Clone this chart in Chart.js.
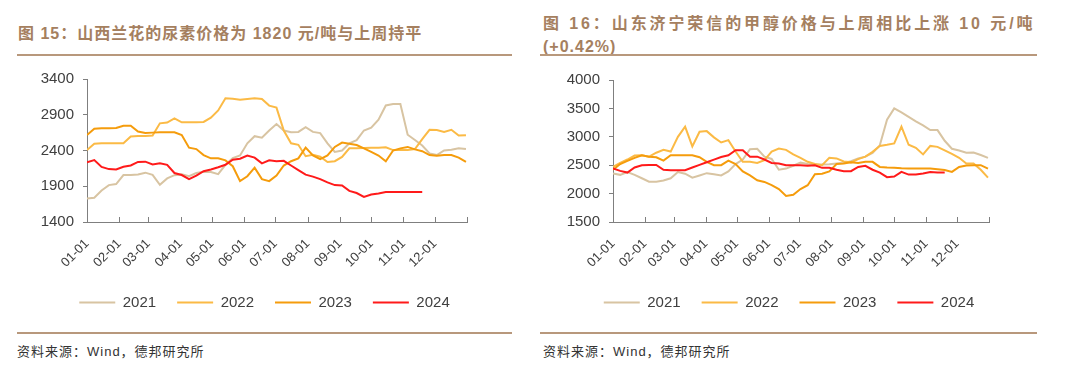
<!DOCTYPE html>
<html>
<head>
<meta charset="utf-8">
<script src="https://cdn.jsdelivr.net/npm/chart.js@4.4.1/dist/chart.umd.min.js"></script>
<style>
  body { margin: 0; width: 1080px; height: 378px; background: #fff; position: relative; overflow: hidden; }
  .title { position: absolute; font: bold 16px "Liberation Sans", "Noto Sans CJK SC", sans-serif; color: #a5805f; line-height: 20px; white-space: nowrap; letter-spacing: 1px; }
  .rule { position: absolute; height: 2px; background: #b8987c; }
  .source { position: absolute; font: 13px "Liberation Sans", "Noto Sans CJK SC", sans-serif; color: #333; line-height: 16px; letter-spacing: 1px; white-space: nowrap; }
  canvas { position: absolute; }
</style>
</head>
<body>
<div class="title" style="left:18px;top:24px">图 15：山西兰花的尿素价格为 1820 元/吨与上周持平</div>
<div class="rule" style="left:17px;top:54px;width:495px"></div>
<canvas id="ureaChart" width="529" height="264" style="left:0;top:60px"></canvas>
<div class="rule" style="left:17px;top:332px;width:495px"></div>
<div class="source" style="left:17px;top:344px">资料来源：Wind，德邦研究所</div>

<div class="title" style="left:543px;top:14px;letter-spacing:2.9px">图 16：山东济宁荣信的甲醇价格与上周相比上涨 10 元/吨</div>
<div class="title" style="left:543px;top:37px">(+0.42%)</div>
<div class="rule" style="left:540px;top:54px;width:497px"></div>
<canvas id="methanolChart" width="498" height="264" style="left:540px;top:60px"></canvas>
<div class="rule" style="left:540px;top:332px;width:497px"></div>
<div class="source" style="left:543px;top:344px">资料来源：Wind，德邦研究所</div>

<script>
// =======================
// Data (weekly readings, one value every 7 days from 01-01)
// =======================
const years = ['2021', '2022', '2023', '2024'];
const yearColors = ['#d8c4a2', '#fbba45', '#f59c0c', '#ff1a1a'];

const monthStarts = [0, 31, 59, 90, 120, 151, 181, 212, 243, 273, 304, 334, 365];
const monthLabels = ['01-01', '02-01', '03-01', '04-01', '05-01', '06-01', '07-01', '08-01', '09-01', '10-01', '11-01', '12-01'];

// 山西兰花 尿素 (元/吨)
const urea2021 = [1730, 1740, 1840, 1916, 1930, 2057, 2057, 2065, 2090, 2060, 1920, 2010, 2055, 2066, 2040, 2085, 2103, 2100, 2070, 2200, 2295, 2330, 2500, 2600, 2580, 2680, 2770, 2680, 2655, 2660, 2725, 2660, 2644, 2500, 2380, 2400, 2500, 2545, 2680, 2720, 2830, 3030, 3050, 3050, 2620, 2546, 2470, 2360, 2336, 2400, 2410, 2430, 2420];
const urea2022 = [2407, 2495, 2500, 2500, 2500, 2500, 2595, 2603, 2603, 2610, 2780, 2790, 2850, 2794, 2794, 2794, 2800, 2860, 2960, 3130, 3125, 3111, 3120, 3130, 3120, 3028, 3000, 2680, 2500, 2480, 2320, 2340, 2313, 2240, 2250, 2310, 2430, 2430, 2435, 2440, 2440, 2445, 2406, 2406, 2406, 2420, 2560, 2690, 2686, 2660, 2690, 2610, 2615];
const urea2023 = [2616, 2705, 2710, 2710, 2715, 2747, 2747, 2665, 2645, 2650, 2654, 2654, 2654, 2616, 2440, 2420, 2336, 2290, 2290, 2262, 2180, 1972, 2040, 2160, 2000, 1972, 2050, 2190, 2250, 2290, 2440, 2330, 2280, 2330, 2450, 2510, 2495, 2476, 2430, 2380, 2330, 2250, 2400, 2430, 2450, 2416, 2390, 2336, 2325, 2336, 2336, 2300, 2240];
const urea2024 = [2235, 2266, 2170, 2140, 2136, 2173, 2190, 2240, 2244, 2205, 2220, 2200, 2085, 2057, 2000, 2050, 2110, 2135, 2165, 2200, 2270, 2285, 2330, 2300, 2220, 2262, 2250, 2255, 2190, 2126, 2062, 2035, 2000, 1955, 1916, 1910, 1835, 1805, 1750, 1785, 1800, 1820, 1820, 1820, 1820, 1820, 1820];

// 山东济宁荣信 甲醇 (元/吨)
const methanol2021 = [2353, 2330, 2380, 2330, 2270, 2210, 2210, 2230, 2270, 2380, 2350, 2280, 2320, 2360, 2340, 2320, 2390, 2520, 2600, 2780, 2790, 2650, 2610, 2420, 2440, 2490, 2545, 2520, 2512, 2512, 2515, 2530, 2540, 2570, 2617, 2650, 2715, 2850, 3300, 3500, 3430, 3350, 3270, 3200, 3120, 3118, 2930, 2790, 2760, 2720, 2724, 2680, 2629];
const methanol2022 = [2470, 2540, 2600, 2670, 2676, 2650, 2720, 2770, 2740, 3000, 3180, 2830, 3090, 3100, 2990, 2900, 2941, 2740, 2560, 2560, 2540, 2590, 2740, 2794, 2770, 2690, 2630, 2560, 2520, 2500, 2630, 2620, 2565, 2550, 2606, 2650, 2735, 2840, 2860, 2883, 3180, 2860, 2806, 2690, 2840, 2823, 2760, 2700, 2630, 2530, 2530, 2420, 2280];
const methanol2023 = [2420, 2520, 2575, 2630, 2676, 2650, 2640, 2580, 2676, 2676, 2676, 2676, 2640, 2560, 2500, 2500, 2580, 2520, 2390, 2320, 2235, 2205, 2150, 2080, 1960, 1980, 2080, 2147, 2340, 2350, 2390, 2520, 2530, 2550, 2540, 2559, 2559, 2470, 2460, 2455, 2445, 2441, 2441, 2441, 2441, 2430, 2415, 2382, 2470, 2495, 2500, 2500, 2441];
const methanol2024 = [2441, 2400, 2370, 2460, 2500, 2505, 2505, 2420, 2412, 2412, 2412, 2460, 2506, 2553, 2598, 2645, 2676, 2765, 2765, 2650, 2650, 2600, 2540, 2530, 2500, 2500, 2500, 2490, 2500, 2453, 2453, 2420, 2394, 2394, 2470, 2490, 2420, 2370, 2290, 2300, 2382, 2335, 2335, 2353, 2380, 2371, 2371];

const axisColor = '#7f7f7f';
const tickColor = '#404040';

// turn a weekly list into {x: day, y: value}
function toPoints(values) {
    return values.map((v, i) => ({ x: i * 7, y: v }));
}

// small ticks pointing up into the plot on the date axis
const innerTicks = {
    id: 'innerTicks',
    afterDraw(chart) {
        const { ctx, chartArea, scales } = chart;
        const x = scales.x;
        ctx.save();
        ctx.strokeStyle = axisColor;
        ctx.lineWidth = 1;
        x.ticks.forEach(t => {
            const px = Math.round(x.getPixelForValue(t.value)) + 0.5;
            ctx.beginPath();
            ctx.moveTo(px, chartArea.bottom);
            ctx.lineTo(px, chartArea.bottom - 5);
            ctx.stroke();
        });
        ctx.restore();
    }
};

function makeChart(canvasId, series, yMin, yMax, yAxisWidth, padTop, padRight) {
    const ctx = document.getElementById(canvasId).getContext('2d');
    return new Chart(ctx, {
        type: 'line',
        data: {
            datasets: series.map((values, i) => ({
                label: years[i],
                data: toPoints(values),
                borderColor: yearColors[i],
                backgroundColor: yearColors[i],
                borderWidth: 2,
                pointRadius: 0,
                tension: 0,
                order: series.length - i   // 2024 drawn on top
            }))
        },
        options: {
            responsive: false,
            animation: false,
            layout: { padding: { top: padTop, right: 0, left: 0, bottom: 4 } },
            plugins: {
                tooltip: { enabled: false },
                legend: {
                    position: 'bottom',
                    labels: {
                        boxWidth: 36,
                        boxHeight: 2,
                        padding: 21,
                        color: tickColor,
                        font: { family: 'Liberation Sans, Arial, sans-serif', size: 15 },
                        sort: (a, b) => a.datasetIndex - b.datasetIndex,
                        generateLabels: chart => Chart.defaults.plugins.legend.labels.generateLabels(chart)
                            .map(l => ({ ...l, lineWidth: 0 }))
                    }
                }
            },
            scales: {
                x: {
                    type: 'linear',
                    min: 0,
                    max: 365,
                    afterBuildTicks: scale => { scale.ticks = monthStarts.map(v => ({ value: v })); },
                    afterFit: scale => { scale.height = 52; },
                    grid: { display: false },
                    border: { display: true, color: axisColor, width: 1 },
                    ticks: {
                        autoSkip: false,
                        maxRotation: 45,
                        minRotation: 45,
                        padding: 6,
                        color: tickColor,
                        font: { family: 'Liberation Sans, Arial, sans-serif', size: 13 },
                        callback: (value, index) => monthLabels[index] || ''
                    }
                },
                y: {
                    min: yMin,
                    max: yMax,
                    afterFit: scale => { scale.width = yAxisWidth; },
                    grid: { drawOnChartArea: false, drawTicks: true, tickLength: 4, color: axisColor },
                    border: { display: true, color: axisColor, width: 1 },
                    ticks: {
                        stepSize: 500,
                        padding: 9,
                        color: tickColor,
                        font: { family: 'Liberation Sans, Arial, sans-serif', size: 15 },
                        callback: value => String(value)
                    }
                },
                // empty right-hand axis: keeps white space right of the plot
                // without narrowing the legend row
                gap: {
                    position: 'right',
                    display: true,
                    afterFit: scale => { scale.width = padRight; },
                    grid: { display: false },
                    border: { display: false },
                    ticks: { display: false }
                }
            }
        },
        plugins: [innerTicks]
    });
}

document.addEventListener('DOMContentLoaded', () => {
    makeChart('ureaChart', [urea2021, urea2022, urea2023, urea2024], 1400, 3400, 87, 19, 62);
    makeChart('methanolChart', [methanol2021, methanol2022, methanol2023, methanol2024], 1500, 4000, 73, 20, 49);
});
</script>
</body>
</html>
